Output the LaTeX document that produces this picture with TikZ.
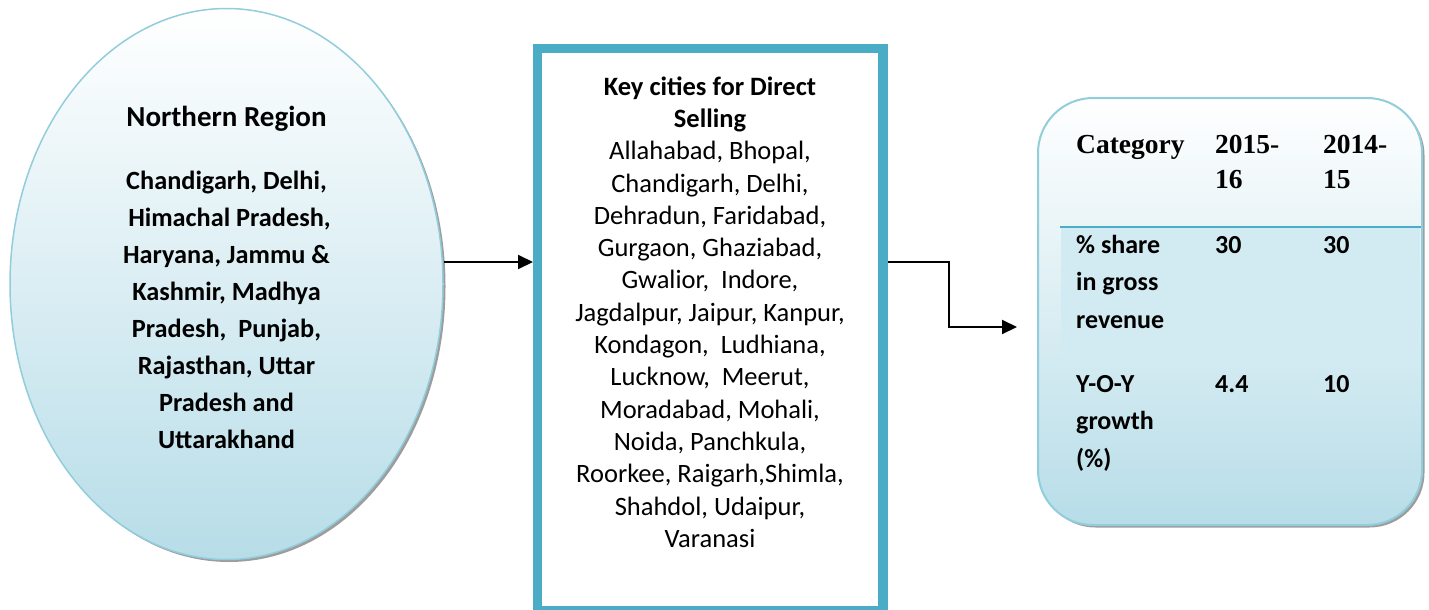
\documentclass[tikz,border=0pt]{standalone}
\usepackage{fontspec}
\setmainfont{Carlito}
\newfontfamily\serifhead{Liberation Serif}
\usetikzlibrary{shapes.geometric,shadows,arrows.meta}
\definecolor{ellborder}{HTML}{92CDDC}
\definecolor{lightfill}{HTML}{B7DDE8}
\definecolor{accent}{HTML}{4BACC6}
\definecolor{band}{HTML}{D2EAF1}
\begin{document}
\begin{tikzpicture}[x=1pt,y=-1pt,
  conn/.style={line width=2pt,-{Triangle[length=15pt,width=14pt]}},
  softshadow/.style={drop shadow={shadow xshift=2.5pt,shadow yshift=-2.5pt,fill=black!55,opacity=0.7}},
  bodytext/.style={font=\fontsize{26.3}{36.9}\selectfont\bfseries,align=center,inner sep=0pt},
  citytextstyle/.style={font=\fontsize{26.5}{32.3}\selectfont,align=center,inner sep=0pt},
  cell/.style={anchor=base west,inner sep=0pt,align=left,font=\fontsize{26}{37.5}\selectfont\bfseries},
  headcell/.style={anchor=base west,inner sep=0pt,align=left,font=\serifhead\fontsize{27.5}{35}\selectfont\bfseries}]
\useasboundingbox (0,0) rectangle (1429,610);

% left ellipse
\node[ellipse,draw=ellborder,line width=1.5pt,top color=white,bottom color=lightfill,
  minimum width=433pt,minimum height=551pt,inner sep=0pt,softshadow] (region) at (226.5,284) {};
\node[bodytext] (regiontext) at (226.5,277.5)
  {{\fontsize{29}{36.9}\selectfont Northern Region}\\[26pt]
   Chandigarh, Delhi,\\
   \ Himachal Pradesh,\\
   Haryana, Jammu \&\\
   Kashmir, Madhya\\
   Pradesh,~ Punjab,\\
   Rajasthan, Uttar\\
   Pradesh and\\
   Uttarakhand};

% middle box
\node[draw=accent,line width=9pt,fill=white,minimum width=345.5pt,minimum height=562pt,inner sep=0pt]
  (cities) at (710.25,329.5) {};
\draw[accent,line width=2.5pt] ([shift={(8,8)}]cities.north west) rectangle ([shift={(-8,-8)}]cities.south east);
\node[citytextstyle] (citytext) at (710,312)
  {\textbf{Key cities for Direct}\\
   \textbf{Selling}\\
   Allahabad, Bhopal,\\
   Chandigarh, Delhi,\\
   Dehradun, Faridabad,\\
   Gurgaon, Ghaziabad,\\
   Gwalior,~ Indore,\\
   Jagdalpur, Jaipur, Kanpur,\\
   Kondagon,~ Ludhiana,\\
   Lucknow,~ Meerut,\\
   Moradabad, Mohali,\\
   Noida, Panchkula,\\
   Roorkee, Raigarh,Shimla,\\
   Shahdol, Udaipur,\\
   Varanasi};

% right table
\node[draw=ellborder,line width=2pt,rounded corners=55pt,top color=white,bottom color=lightfill,
  minimum width=384pt,minimum height=427pt,inner sep=0pt,softshadow] (table) at (1230,311.5) {};
\fill[band] (1061,228) rectangle (1420,367);
\draw[accent,line width=2.5pt] (1060,227) -- (1421,227);
\node[headcell] (h1) at (1076,153) {Category};
\node[headcell] (h2) at (1215,188) {2015-\\16};
\node[headcell] (h3) at (1323,188) {2014-\\15};
\node[cell] (r1) at (1076,328) {\% share\\in gross\\revenue};
\node[cell] (r1a) at (1215,253) {30};
\node[cell] (r1b) at (1323,253) {30};
\node[cell] (r2) at (1076,467) {Y-O-Y\\growth\\(\%)};
\node[cell] (r2a) at (1215,392) {4.4};
\node[cell] (r2b) at (1323,392) {10};

% connectors
\coordinate (a1) at (0,262);
\coordinate (a2) at (948.5,327);
\draw[conn] (region.east |- a1) -- (cities.west |- a1);
\draw[conn,shorten >=20pt] (cities.east |- a1) -| (a2) -- (table.west |- a2);
\end{tikzpicture}
\end{document}
